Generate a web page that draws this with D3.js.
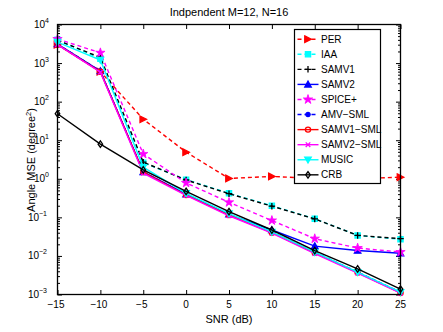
<!DOCTYPE html>
<html><head><meta charset="utf-8">
<script src="https://cdn.jsdelivr.net/npm/d3@7"></script>
<style>
html,body{margin:0;padding:0;background:#fff;}
svg{display:block;font-family:"Liberation Sans",Arial,Helvetica,sans-serif;}
</style></head>
<body><svg id="c" width="443" height="332"></svg>
<script>
const snr = [-15, -10, -5, 0, 5, 10, 15, 20, 25];
const seriesNames = ["PER","IAA","SAMV1","SAMV2","SPICE+","AMV\u2212SML","SAMV1\u2212SML","SAMV2\u2212SML","MUSIC","CRB"];
const PER      = [3000, 600, 35, 4.9, 1.02, 1.15, 1.02, 1.0, 1.1];
const IAA      = [4000, 1300, 2.6, 0.95, 0.42, 0.2, 0.092, 0.034, 0.027];
const SAMV1    = [3900, 1400, 2.7, 0.93, 0.41, 0.195, 0.091, 0.034, 0.028];
const SAMV2    = [3100, 620, 1.5, 0.40, 0.12, 0.047, 0.018, 0.0138, 0.0117];
const SPICEp   = [4200, 1850, 4.4, 0.78, 0.245, 0.083, 0.028, 0.016, 0.0126];
const AMVSML   = [3100, 620, 1.5, 0.39, 0.115, 0.041, 0.0125, 0.0038, 0.00115];
const SAMV1SML = [3000, 600, 1.5, 0.38, 0.115, 0.04, 0.012, 0.0037, 0.0011];
const SAMV2SML = [3000, 580, 1.4, 0.37, 0.11, 0.039, 0.0115, 0.0036, 0.00108];
const MUSIC    = [3500, 1200, 2.0, 0.42, 0.125, 0.042, 0.0125, 0.0038, 0.00115];
const CRB      = [48.6, 7.9, 1.7, 0.47, 0.14, 0.047, 0.0138, 0.0046, 0.00138];
const xTicks = [-15, -10, -5, 0, 5, 10, 15, 20, 25];
const yExponents = [-3, -2, -1, 0, 1, 2, 3, 4];
const titleText = "Indpendent M=12, N=16";

const values = [PER, IAA, SAMV1, SAMV2, SPICEp, AMVSML, SAMV1SML, SAMV2SML, MUSIC, CRB];
const styles = [
  {color:"#ff0000", dash:"4,3", marker:"triR"},
  {color:"#00ffff", dash:"4,3", marker:"square"},
  {color:"#000000", dash:"4,3", marker:"plus"},
  {color:"#0000ff", dash:null,  marker:"triU"},
  {color:"#ff00ff", dash:"4,3", marker:"star"},
  {color:"#0000ff", dash:"4,3", marker:"dot"},
  {color:"#ff0000", dash:null,  marker:"circle"},
  {color:"#ff00ff", dash:null,  marker:"x"},
  {color:"#00ffff", dash:null,  marker:"triD"},
  {color:"#000000", dash:null,  marker:"diamond"}
];

const L = 57.5, R = 400.5, T = 24.5, B = 294.5;
const svg = d3.select("#c");
const x = d3.scaleLinear().domain([-15, 25]).range([L, R]);
const y = d3.scaleLog().domain([1e-3, 1e4]).range([B, T]);

svg.append("rect").attr("x", L).attr("y", T).attr("width", R - L).attr("height", B - T)
  .attr("fill", "#fff").attr("stroke", "none");

const yMinor = [];
for (let e = -3; e < 4; e++) for (let m = 2; m <= 9; m++) yMinor.push(m * Math.pow(10, e));
const axisStyle = g => { g.select(".domain").remove(); g.selectAll("line").attr("stroke", "#000").attr("stroke-width", 1); };
svg.append("g").attr("transform", `translate(${L},0)`)
  .call(d3.axisRight(y).tickValues(yMinor).tickSize(2.5).tickFormat("")).call(axisStyle);
svg.append("g").attr("transform", `translate(${R},0)`)
  .call(d3.axisLeft(y).tickValues(yMinor).tickSize(2.5).tickFormat("")).call(axisStyle);
svg.append("g").attr("transform", `translate(${L},0)`)
  .call(d3.axisRight(y).tickValues(yExponents.map(e => Math.pow(10, e))).tickSize(4.5).tickFormat("")).call(axisStyle);
svg.append("g").attr("transform", `translate(${R},0)`)
  .call(d3.axisLeft(y).tickValues(yExponents.map(e => Math.pow(10, e))).tickSize(4.5).tickFormat("")).call(axisStyle);
svg.append("g").attr("transform", `translate(0,${B})`)
  .call(d3.axisTop(x).tickValues(xTicks).tickSize(4.5).tickFormat("")).call(axisStyle);
svg.append("g").attr("transform", `translate(0,${T})`)
  .call(d3.axisBottom(x).tickValues(xTicks).tickSize(4.5).tickFormat("")).call(axisStyle);

svg.append("g").selectAll("text").data(xTicks).join("text")
  .attr("x", d => x(d) - (d < 0 ? 1.5 : 0)).attr("y", 308)
  .attr("text-anchor", "middle").attr("font-size", 10).attr("fill", "#000")
  .text(d => d < 0 ? "\u2212" + Math.abs(d) : String(d));
const yl = svg.append("g").selectAll("text").data(yExponents).join("text")
  .attr("y", d => y(Math.pow(10, d)) + 3.5)
  .attr("x", d => d < 0 ? 47 : 49)
  .attr("text-anchor", "end").attr("font-size", 10).attr("fill", "#000");
yl.append("tspan").text("10");
yl.append("tspan").attr("dy", -5).attr("font-size", 7).text(d => d < 0 ? "\u2212" + Math.abs(d) : String(d));

function markerPath(type, s) {
  const h = s / 2;
  switch (type) {
    case "triR": return `M${-h},${-h}L${h},0L${-h},${h}Z`;
    case "triU": return `M0,${-h}L${h},${h*0.8}L${-h},${h*0.8}Z`;
    case "triD": return `M0,${h}L${h},${-h*0.8}L${-h},${-h*0.8}Z`;
    case "square": return `M${-h*0.8},${-h*0.8}h${1.6*h}v${1.6*h}h${-1.6*h}Z`;
    case "plus": return `M${-h},0H${h}M0,${-h}V${h}`;
    case "x": return `M${-h*0.7},${-h*0.7}L${h*0.7},${h*0.7}M${-h*0.7},${h*0.7}L${h*0.7},${-h*0.7}`;
    case "diamond": return `M0,${-h}L${h*0.7},0L0,${h}L${-h*0.7},0Z`;
    case "circle": return d3.symbol(d3.symbolCircle, s * s * 0.5)();
    case "dot": return d3.symbol(d3.symbolCircle, s * s * 0.35)();
    case "star": return d3.symbol(d3.symbolStar, s * s * 0.55)();
  }
}
function drawMarker(g, type, color, cx, cy) {
  const filled = ["square","star","dot","triU","triD","triR"].includes(type);
  g.append("path").attr("d", markerPath(type, type === "star" ? 7 : 6.5))
    .attr("transform", `translate(${cx},${cy})`)
    .attr("fill", filled ? color : "none")
    .attr("stroke", color).attr("stroke-width", type === "star" ? 0.8 : 1.3);
}
const line = d3.line().x((d, i) => x(snr[i])).y(d => y(d));
const plot = svg.append("g");
values.forEach((vals, k) => {
  const st = styles[k];
  const g = plot.append("g");
  g.append("path").datum(vals).attr("d", line).attr("fill", "none")
    .attr("stroke", st.color).attr("stroke-width", 1.4)
    .attr("stroke-dasharray", st.dash);
  vals.forEach((v, i) => drawMarker(g, st.marker, st.color, x(snr[i]), y(v)));
});

svg.append("rect").attr("x", L).attr("y", T).attr("width", R - L).attr("height", B - T)
  .attr("fill", "none").attr("stroke", "#000").attr("stroke-width", 1.3);

const lg = svg.append("g");
lg.append("rect").attr("x", 294.5).attr("y", 29.5).attr("width", 86).attr("height", 154)
  .attr("fill", "#fff").attr("stroke", "#000").attr("stroke-width", 1.2);
seriesNames.forEach((name, k) => {
  const st = styles[k];
  const yy = 39.2 + k * 15.07;
  lg.append("line").attr("x1", 297.5).attr("x2", 318.5).attr("y1", yy).attr("y2", yy)
    .attr("stroke", st.color).attr("stroke-width", 1.4).attr("stroke-dasharray", st.dash);
  drawMarker(lg, st.marker, st.color, 308, yy);
  lg.append("text").attr("x", 321).attr("y", yy + 3.6).attr("font-size", 10).attr("fill", "#000").text(name);
});

svg.append("text").attr("x", 229).attr("y", 16).attr("text-anchor", "middle").attr("font-size", 11).text(titleText);
svg.append("text").attr("x", 229).attr("y", 323).attr("text-anchor", "middle").attr("font-size", 11).text("SNR (dB)");
const yt = svg.append("text").attr("transform", "translate(35,160) rotate(-90)")
  .attr("text-anchor", "middle").attr("font-size", 11);
yt.append("tspan").text("Angle MSE (degree");
yt.append("tspan").attr("dy", -4).attr("font-size", 7.5).text("2");
yt.append("tspan").attr("dy", 4).text(")");
</script></body></html>
